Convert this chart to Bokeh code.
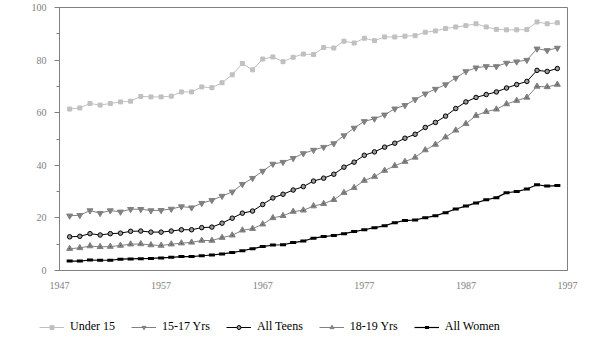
from bokeh.plotting import figure
from bokeh.layouts import column
from bokeh.models import FixedTicker, Legend, LegendItem, Range1d
from bokeh.embed import file_html
from bokeh.resources import INLINE

years = [1948, 1949, 1950, 1951, 1952, 1953, 1954, 1955, 1956, 1957, 1958, 1959, 1960,
         1961, 1962, 1963, 1964, 1965, 1966, 1967, 1968, 1969, 1970, 1971, 1972, 1973,
         1974, 1975, 1976, 1977, 1978, 1979, 1980, 1981, 1982, 1983, 1984, 1985, 1986,
         1987, 1988, 1989, 1990, 1991, 1992, 1993, 1994, 1995, 1996]

under15 = [61.4, 61.8, 63.5, 62.9, 63.5, 64.1, 64.4, 66.2, 66.0, 66.0, 66.3, 67.9, 67.9,
           69.8, 69.5, 71.4, 74.4, 78.7, 76.3, 80.4, 81.2, 79.4, 81.1, 82.3, 82.1, 84.8,
           84.6, 87.2, 86.5, 88.3, 87.4, 88.8, 88.8, 89.1, 89.3, 90.6, 91.1, 92.0, 92.6,
           93.1, 93.8, 92.6, 91.7, 91.5, 91.5, 91.6, 94.5, 93.8, 94.2]

yrs15_17 = [20.8, 21.0, 22.8, 21.8, 22.8, 22.3, 23.3, 23.3, 22.8, 22.9, 23.4, 24.3, 23.9,
            25.6, 26.7, 28.3, 29.9, 32.8, 35.1, 37.8, 40.5, 41.2, 42.7, 44.5, 45.8, 46.9,
            48.3, 51.3, 54.2, 56.7, 57.7, 59.2, 61.5, 62.8, 65.0, 67.2, 69.0, 70.7, 73.2,
            75.7, 77.1, 77.6, 77.6, 78.9, 79.4, 80.0, 84.3, 83.7, 84.6]

all_teens = [12.8, 13.0, 14.0, 13.5, 14.0, 14.2, 14.9, 15.0, 14.6, 14.6, 15.0, 15.5, 15.5,
             16.3, 16.5, 18.0, 19.9, 21.8, 22.6, 25.1, 27.6, 29.0, 30.6, 31.9, 34.0, 35.1,
             36.6, 39.3, 41.2, 43.8, 45.1, 46.9, 48.4, 50.3, 51.8, 54.4, 56.3, 58.7, 61.6,
             64.1, 65.8, 66.9, 67.9, 69.4, 70.7, 71.9, 76.1, 75.7, 76.8]

yrs18_19 = [8.3, 8.6, 9.3, 9.0, 9.1, 9.5, 10.0, 10.1, 9.7, 9.5, 10.0, 10.4, 10.7,
            11.4, 11.4, 12.5, 13.4, 15.3, 15.9, 17.6, 20.0, 20.8, 22.4, 22.9, 24.5, 25.4,
            26.9, 29.6, 31.5, 34.2, 35.7, 38.0, 39.8, 41.4, 43.0, 45.8, 47.9, 50.7, 53.3,
            55.8, 58.9, 60.4, 61.3, 63.3, 64.6, 65.8, 70.0, 69.8, 70.7]

all_women = [3.6, 3.6, 4.0, 3.9, 3.9, 4.3, 4.4, 4.5, 4.6, 4.8, 5.0, 5.3, 5.3,
             5.6, 5.9, 6.3, 6.8, 7.5, 8.3, 9.1, 9.7, 9.8, 10.6, 11.2, 12.3, 12.9,
             13.3, 14.0, 14.8, 15.5, 16.3, 17.0, 18.2, 19.0, 19.2, 20.1, 20.8, 22.0, 23.4,
             24.5, 25.7, 26.9, 27.7, 29.6, 30.0, 31.0, 32.6, 32.1, 32.3]

labels = ["Under 15", "15-17 Yrs", "All Teens", "18-19 Yrs", "All Women"]
x_ticks = [1947, 1957, 1967, 1977, 1987, 1997]
y_ticks = [0, 20, 40, 60, 80, 100]
y_minor = [10, 30, 50, 70, 90]

FONT = "Liberation Serif"
GRAY = "#808080"

p = figure(width=598, height=300, output_backend="svg", toolbar_location=None,
           x_range=Range1d(1947, 1997), y_range=Range1d(0, 100),
           min_border_left=59, min_border_right=31, min_border_top=7, min_border_bottom=30)
p.frame_align = False
p.xgrid.visible = False
p.ygrid.visible = False
p.outline_line_color = GRAY
p.outline_line_width = 1
p.background_fill_color = "white"
p.border_fill_color = "white"

xa = p.xaxis[0]
xa.ticker = FixedTicker(ticks=x_ticks)
xa.axis_line_color = GRAY
xa.major_tick_out = 0
xa.major_tick_in = 0
xa.minor_tick_out = 0
xa.major_label_standoff = 11
xa.major_label_text_font = FONT
xa.major_label_text_font_size = "10px"
xa.major_label_text_color = GRAY

ya = p.yaxis[0]
ya.ticker = FixedTicker(ticks=y_ticks, minor_ticks=y_minor)
ya.axis_line_color = GRAY
ya.major_tick_line_color = GRAY
ya.minor_tick_line_color = GRAY
ya.major_tick_out = 5
ya.major_tick_in = 0
ya.minor_tick_out = 3
ya.minor_tick_in = 0
ya.major_label_standoff = 8
ya.major_label_text_font = FONT
ya.major_label_text_font_size = "10px"
ya.major_label_text_color = GRAY

# legend strip: same series drawn in a figure whose y range hides them
lg = figure(width=598, height=42, output_backend="svg", toolbar_location=None,
            x_range=Range1d(1947, 1997), y_range=Range1d(1000, 1001),
            x_axis_type=None, y_axis_type=None,
            min_border=0, outline_line_color=None)
lg.frame_align = False
lg.grid.visible = False


def draw(fig, ys, line_color, line_width, marker, size, fill, mline, mwidth, dot=False):
    rs = [fig.line(years, ys, line_color=line_color, line_width=line_width),
          fig.scatter(years, ys, marker=marker, size=size, fill_color=fill,
                      line_color=mline, line_width=mwidth)]
    if dot:
        fig.scatter(years, ys, marker="dot", size=3, line_color="black", fill_color="black")
    return rs


styles = [
    (under15, "#c0c0c0", 1, "square", 4, "#c0c0c0", "#c0c0c0", 1, False),
    (yrs15_17, GRAY, 1, "inverted_triangle", 6, GRAY, GRAY, 1, False),
    (all_teens, "black", 1, "circle", 4.5, "#9a9a9a", "black", 1, False),
    (yrs18_19, GRAY, 1, "triangle", 6, GRAY, GRAY, 1, True),
    (all_women, "black", 1.2, "dash", 6, "black", "black", 3, False),
]

items = []
for lab, st in zip(labels, styles):
    draw(p, *st)
    rs = draw(lg, *st[:-1], False)
    items.append(LegendItem(label=lab, renderers=rs))

legend = Legend(items=items, orientation="horizontal", location=(35, 4),
                glyph_width=25, glyph_height=10, label_standoff=6, spacing=16,
                padding=4, margin=0,
                label_text_font=FONT, label_text_font_size="12px", label_text_color="black",
                background_fill_alpha=0, border_line_alpha=0)
lg.add_layout(legend, "center")

layout = column(p, lg, spacing=0)
open("out.html", "w").write(file_html(layout, INLINE))
